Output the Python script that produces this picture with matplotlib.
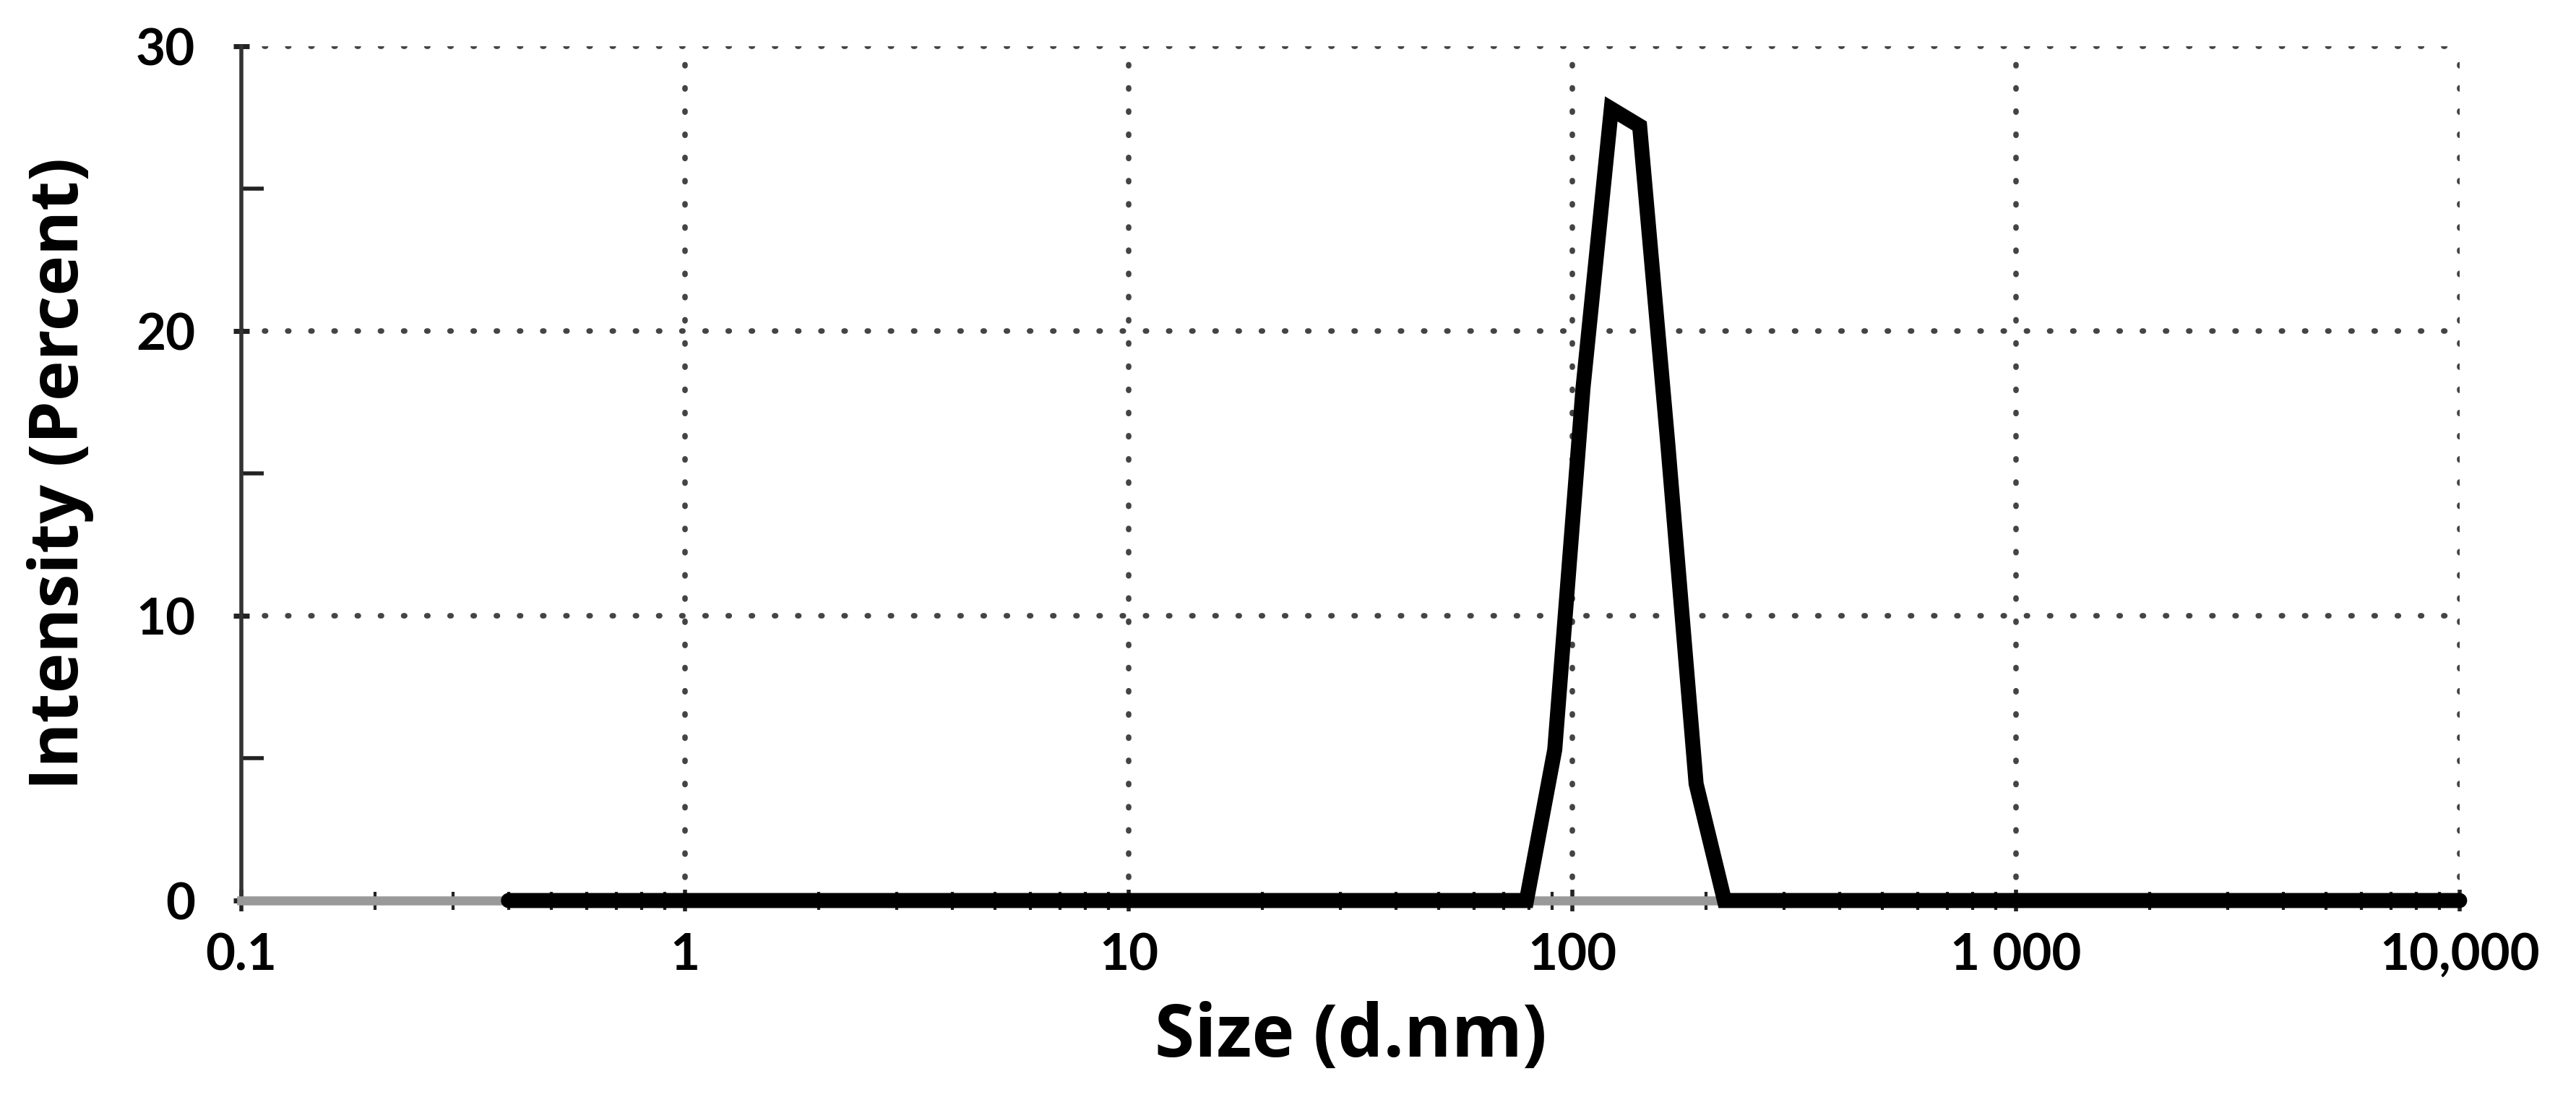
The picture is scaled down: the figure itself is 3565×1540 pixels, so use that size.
import numpy as np
import matplotlib.pyplot as plt
from matplotlib.ticker import FixedLocator, NullFormatter

# Datos (DLS, intensidad vs tamano)
tamano = [0.4, 78.82, 91.28, 105.7, 122.4, 141.8, 164.2, 190.1, 220.2, 10000]
intensidad = [0, 0, 5.3, 18.0, 27.8, 27.2, 16.0, 4.1, 0, 0]

xticks = [0.1, 1, 10, 100, 1000, 10000]
xtick_labels = ["0.1", "1", "10", "100", "1 000", "10,000"]
yticks = [0, 10, 20, 30]

fig = plt.figure(figsize=(35.65, 15.40), dpi=100)
ax = fig.add_axes([334 / 3565, 1 - 1246 / 1540, (3404 - 334) / 3565, (1246 - 64) / 1540])

ax.set_xscale("log")
ax.set_xlim(0.1, 10000)
ax.set_ylim(0, 30)

# Rejilla punteada
for xv in xticks[1:]:
    ax.axvline(xv, color="#444444", lw=5.5, ls=(0, (0.2, 4.0)), dash_capstyle="round", zorder=1)
for yv in yticks[1:]:
    ax.axhline(yv, color="#444444", lw=5.5, ls=(0, (0.2, 4.0)), dash_capstyle="round", zorder=1)

ax.plot(tamano, intensidad, color="black", lw=15, solid_joinstyle="miter",
        solid_capstyle="round", zorder=3, clip_on=False)

for s in ["top", "right"]:
    ax.spines[s].set_visible(False)
ax.spines["left"].set_color("#333333")
ax.spines["left"].set_linewidth(4)
ax.spines["bottom"].set_color("#999999")
ax.spines["bottom"].set_linewidth(9)

ax.set_xticks(xticks)
ax.set_xticklabels(xtick_labels)
ax.xaxis.set_minor_locator(FixedLocator([m * 10.0 ** e for e in range(-1, 4) for m in range(2, 10)]))
ax.xaxis.set_minor_formatter(NullFormatter())
ax.set_yticks(yticks)
ax.yaxis.set_minor_locator(FixedLocator([5, 15, 25]))

ax.tick_params(axis="x", which="major", direction="inout", length=22, width=4, color="#222222", pad=20)
ax.tick_params(axis="x", which="minor", direction="inout", length=18, width=3, color="#222222")
ax.tick_params(axis="y", which="major", direction="inout", length=16, width=5, color="#222222", pad=38)
ax.tick_params(axis="y", which="minor", direction="in", length=22, width=4, color="#222222")

for lab in ax.get_xticklabels() + ax.get_yticklabels():
    lab.set_fontfamily("Lato")
    lab.set_fontweight("bold")
    lab.set_fontsize(51)

ax.set_xlabel("Size (d.nm)", fontfamily="Open Sans", fontweight="bold", fontsize=72, labelpad=22)
ax.set_ylabel("Intensity (Percent)", fontfamily="Open Sans", fontweight="bold", fontsize=68, labelpad=42)

fig.savefig("out.png", dpi=100, facecolor="white")
